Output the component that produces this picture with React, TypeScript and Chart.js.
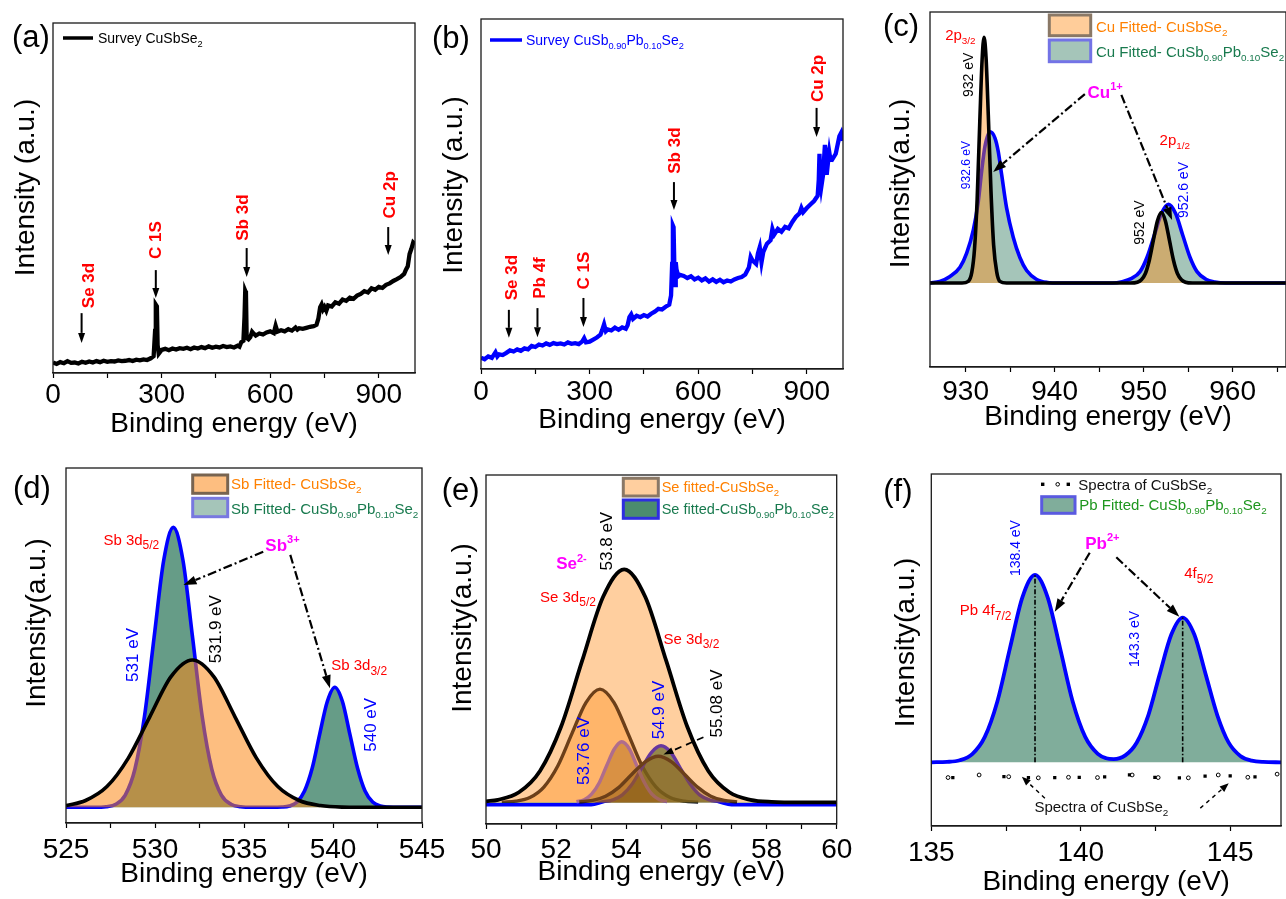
import React, { useEffect, useRef } from 'react';
import { Chart, registerables } from 'chart.js';

Chart.register(...registerables);

const FONT = "'Liberation Sans', Arial, Helvetica, sans-serif";
Chart.defaults.font.family = FONT;
Chart.defaults.color = '#000';

// ---------------- DATA ----------------
// (a) survey spectrum CuSbSe2  [binding energy eV, intensity a.u.]
const surveyA: number[][] = [[0,3.0],[10,2.6],[20,3.1],[30,2.8],[40,3.4],[50,2.9],[60,3.0],[70,2.7],[80,3.2],[90,2.9],[100,3.3],[110,3.0],[120,3.4],[130,3.1],[140,3.5],[150,3.2],[160,3.4],[170,3.3],[180,3.6],[190,3.4],[200,3.5],[210,3.7],[220,3.4],[230,3.8],[240,3.6],[250,3.9],[260,3.7],[270,4.2],[278,4.8],[282,12],[284,19.5],[287,19],[289,8],[292,5.5],[300,6.6],[310,6.9],[320,6.5],[330,7.0],[340,6.7],[350,7.1],[360,6.9],[370,7.2],[380,6.8],[390,7.3],[400,7.0],[410,7.4],[420,7.1],[430,7.6],[440,7.2],[450,7.5],[460,7.3],[470,7.7],[480,7.4],[490,7.6],[500,7.3],[510,7.8],[515,7.5],[520,8.8],[526,9.2],[529,16],[531,23.5],[533,23],[535,10],[540,9.6],[545,10.2],[550,11.8],[555,11.2],[560,10.7],[570,11.3],[580,11.0],[590,11.6],[600,11.9],[610,11.4],[615,13.5],[620,11.8],[630,12.2],[640,11.9],[650,12.5],[660,12.1],[670,13.0],[675,12.4],[680,12.8],[690,12.6],[700,12.9],[710,13.2],[720,13.4],[728,13.8],[733,15.5],[738,18.8],[742,19.6],[746,18.2],[750,18.9],[755,17.8],[760,19.3],[770,19.0],[780,20.2],[790,19.8],[800,21.0],[810,20.6],[820,21.5],[830,21.2],[840,22.1],[850,22.6],[860,23.4],[870,23.0],[880,24.2],[890,23.8],[900,24.6],[910,24.3],[920,25.2],[930,25.6],[940,26.3],[950,26.8],[960,27.4],[970,28.3],[975,29.5],[980,30.5],[985,34.0],[990,35.5],[995,37.3],[1000,36.8]];

// (b) survey spectrum CuSb0.90Pb0.10Se2
const surveyB: number[][] = [[0,3.2],[10,2.8],[20,3.6],[30,3.2],[40,4.8],[45,3.6],[50,4.2],[60,4.0],[70,4.6],[80,5.3],[90,5.0],[100,5.6],[110,5.2],[120,5.9],[130,5.6],[140,6.6],[150,6.3],[160,7.0],[170,6.7],[180,7.3],[190,6.9],[200,7.4],[210,7.1],[220,7.3],[230,7.0],[240,7.6],[250,7.2],[260,7.4],[270,7.1],[280,7.9],[285,8.8],[290,7.6],[300,7.8],[310,8.4],[320,9.0],[330,9.8],[335,11.2],[340,12.8],[345,10.8],[350,11.3],[360,11.0],[370,11.8],[380,11.2],[390,11.9],[400,11.5],[405,12.5],[410,14.8],[415,15.6],[420,14.3],[430,15.2],[440,14.8],[450,15.4],[460,15.0],[470,15.8],[480,16.4],[490,17.2],[500,17.0],[510,17.8],[520,18.4],[525,21.0],[528,30],[530,41.0],[532,40.5],[534,30],[536,24],[538,30.5],[540,28.5],[545,26.5],[550,26.9],[560,26.6],[570,26.0],[580,26.5],[590,25.6],[600,26.1],[610,25.3],[620,25.9],[630,25.0],[640,25.6],[650,24.9],[660,25.5],[670,24.8],[680,25.3],[690,25.0],[700,25.6],[710,26.0],[720,26.3],[730,27.0],[740,29.0],[745,32.0],[750,31.0],[760,30.0],[765,33.0],[770,34.8],[775,30.5],[780,33.5],[790,35.8],[800,36.8],[805,40.0],[810,38.4],[820,40.0],[830,39.2],[840,40.6],[850,40.2],[860,42.0],[870,43.5],[880,44.5],[885,46.0],[890,44.8],[900,46.0],[910,47.0],[920,48.0],[930,49.5],[933,54],[935,61.5],[937,55],[940,52],[945,55.5],[950,64.0],[952,62.5],[955,55.5],[958,58.5],[962,62.0],[965,60.0],[970,59.8],[980,61.5],[990,66.5],[995,67.5],[1000,65.2]];

// (c) Cu 2p fitted
const cuRef: number[][] = [[926,0],[929.6,0],[930.3,0.6],[930.7,4.0],[931.0,12.5],[931.3,31],[931.6,60],[931.85,82],[932.07,90.7],[932.3,83],[932.55,62],[932.85,34],[933.15,14],[933.5,4.0],[933.85,0.6],[934.6,0],[948.5,0],[949.3,0.3],[949.75,1.2],[950.2,3.5],[950.65,8.5],[951.1,15.8],[951.55,22.9],[952.0,26],[952.45,22.9],[952.9,15.8],[953.35,8.5],[953.8,3.5],[954.25,1.2],[954.7,0.3],[955.5,0],[966,0]];
const cuPb: number[][] = [[926,0],[927.1,0.6],[928.25,2.4],[929.37,5.8],[930.12,11.0],[930.87,19.6],[931.43,30.2],[931.81,41.5],[932.18,50.5],[932.74,55.8],[933.3,53.5],[933.67,48.5],[934.05,40.0],[934.6,27.8],[935.36,16.8],[936.1,9.4],[936.86,4.6],[937.99,1.3],[939.2,0.2],[940.5,0],[946.5,0],[947.6,0.5],[948.6,1.6],[949.6,4.2],[950.4,9.6],[951.2,17.6],[952.0,25.6],[952.8,29],[953.6,25.6],[954.4,17.6],[955.2,9.6],[956.0,4.2],[957.0,1.4],[958.0,0.4],[959.2,0],[966,0]];

// (d) Sb 3d fitted
const sbRef: number[][] = [[525,0.5],[526.1,2.0],[527.3,6.1],[528.5,14.5],[529.7,26.6],[530.9,38.5],[532.1,43.4],[533.3,38.5],[534.5,26.6],[535.7,14.5],[536.9,6.1],[538.1,2.0],[539.3,0.5],[540.5,0.05],[541.5,0],[545,0]];
const sbPb: number[][] = [[525,0],[526.6,0],[527.25,0.18],[527.8,0.9],[528.33,3.6],[528.87,11.2],[529.41,26.8],[529.95,50.1],[530.49,72.8],[531.03,82.5],[531.57,72.8],[532.11,50.1],[532.65,26.8],[533.19,11.2],[533.73,3.6],[534.27,0.9],[534.81,0.18],[535.5,0],[536.5,0],[537.13,0.08],[537.55,0.39],[537.98,1.55],[538.4,4.8],[538.83,11.5],[539.25,21.5],[539.68,31.2],[540.1,35.4],[540.53,31.2],[540.95,21.5],[541.38,11.5],[541.8,4.8],[542.23,1.55],[542.65,0.39],[543.08,0.08],[543.8,0],[545,0]];

// (e) Se 3d fitted
const seEnvelope: number[][] = [[50,0.3],[50.34,0.79],[50.94,3.1],[51.54,9.6],[52.14,23.1],[52.74,43.2],[53.34,62.8],[53.94,71.2],[54.54,62.8],[55.14,43.2],[55.74,23.1],[56.34,9.6],[56.94,3.1],[57.54,0.79],[58.14,0.16],[59,0],[60,0]];
const se53_2: number[][] = [[50.45,0.08],[50.85,0.39],[51.25,1.5],[51.65,4.7],[52.05,11.2],[52.45,21.0],[52.85,30.5],[53.25,34.6],[53.65,30.5],[54.05,21.0],[54.45,11.2],[54.85,4.7],[55.25,1.5],[55.65,0.39],[56.05,0.08]];
const se53_76: number[][] = [[52.58,0.2],[52.8,0.81],[53.01,2.5],[53.23,6.0],[53.44,11.2],[53.66,16.3],[53.87,18.5],[54.09,16.3],[54.3,11.2],[54.52,6.0],[54.73,2.5],[54.95,0.81],[55.16,0.2]];
const se54_9: number[][] = [[50,-0.7],[53.0,-0.7],[53.34,0.19],[53.62,0.76],[53.89,2.3],[54.17,5.6],[54.44,10.5],[54.72,15.3],[54.99,17.3],[55.27,15.3],[55.54,10.5],[55.82,5.6],[56.09,2.3],[56.37,0.76],[56.64,0.19],[57.0,-0.7],[60,-0.7]];
const se55_08: number[][] = [[52.66,0.16],[53.04,0.62],[53.41,1.9],[53.79,4.6],[54.16,8.6],[54.54,12.4],[54.91,14.1],[55.29,12.4],[55.66,8.6],[56.04,4.6],[56.41,1.9],[56.79,0.62],[57.16,0.16]];

// (f) Pb 4f fitted + CuSbSe2 spectrum points
const pbFit: number[][] = [[135,0],[135.53,0.14],[135.95,0.72],[136.37,2.85],[136.79,8.8],[137.21,21.1],[137.63,39.5],[138.05,57.3],[138.47,65],[138.89,57.3],[139.31,39.5],[139.73,21.1],[140.15,8.8],[140.57,2.9],[140.85,1.4],[141.1,1.1],[141.49,2.4],[141.87,6.8],[142.26,16.3],[142.64,30.5],[143.03,44.3],[143.41,50.2],[143.8,44.3],[144.18,30.5],[144.57,16.3],[144.95,6.8],[145.34,2.2],[145.72,0.56],[146.1,0.11],[146.7,0]];
const pbPeaks: number[][] = [[138.47,65],[143.41,50.2]];
const refSquares: number[][] = [[135.72,-5.3],[137.43,-5.0],[138.25,-5.3],[139.13,-5.3],[139.95,-5.2],[140.8,-5.1],[141.63,-4.4],[142.48,-5.2],[143.3,-5.4],[144.16,-4.8],[145.0,-4.7],[145.83,-5.1]];
const refCircles: number[][] = [[135.56,-5.3],[136.6,-4.4],[137.59,-5.0],[138.58,-5.4],[139.59,-5.2],[140.56,-5.3],[141.72,-4.4],[142.59,-5.3],[143.6,-5.4],[144.6,-4.4],[145.59,-5.2],[146.57,-4.1]];

// tick labels
const ticksSurvey = [0, 300, 600, 900];
const ticksCu = [930, 940, 950, 960];
const ticksSb = [525, 530, 535, 540, 545];
const ticksSe = [50, 52, 54, 56, 58, 60];
const ticksPb = [135, 140, 145];

// ---------------- helpers ----------------
const RED = '#FF0000', BLUE = '#0000FF', MAG = '#FF00FF', ORANGE_T = '#FF8000', GREEN_T = '#187A4E';

type Seg = { t: string; m: number; w?: number };
function parseRich(s: string): Seg[] {
  const segs: Seg[] = [];
  let buf = '';
  let i = 0;
  while (i < s.length) {
    const c = s[i];
    if ((c === '_' || c === '^') && s[i + 1] === '{') {
      if (buf) { segs.push({ t: buf, m: 0 }); buf = ''; }
      const end = s.indexOf('}', i);
      segs.push({ t: s.slice(i + 2, end), m: c === '_' ? 1 : 2 });
      i = end + 1;
    } else { buf += c; i++; }
  }
  if (buf) segs.push({ t: buf, m: 0 });
  return segs;
}

type RichOpt = { size: number; color: string; bold?: boolean; rot?: boolean; align?: 'left' | 'center'; sub?: number };
function drawRich(ctx: CanvasRenderingContext2D, s: string, x: number, y: number, o: RichOpt) {
  const segs = parseRich(s);
  const wt = o.bold ? 'bold ' : '';
  const ss = o.size * (o.sub ?? 0.66);
  const fontFor = (m: number) => `${wt}${m === 0 ? o.size : ss}px ${FONT}`;
  ctx.save();
  let total = 0;
  for (const g of segs) { ctx.font = fontFor(g.m); g.w = ctx.measureText(g.t).width; total += g.w; }
  ctx.translate(x, y);
  if (o.rot) ctx.rotate(-Math.PI / 2);
  let cx = (o.align ?? 'left') === 'center' ? -total / 2 : 0;
  const y0 = 0.35 * o.size;
  ctx.fillStyle = o.color;
  ctx.textBaseline = 'alphabetic';
  ctx.textAlign = 'left';
  for (const g of segs) {
    ctx.font = fontFor(g.m);
    const dy = g.m === 1 ? 0.28 * o.size : g.m === 2 ? -0.45 * o.size : 0;
    ctx.fillText(g.t, cx, y0 + dy);
    cx += g.w || 0;
  }
  ctx.restore();
}

type Arr = { x1: number; y1: number; x2: number; y2: number; dash?: number[]; w?: number; hl?: number; hw?: number };
function drawArrow(ctx: CanvasRenderingContext2D, x1: number, y1: number, x2: number, y2: number, o: Arr) {
  const ang = Math.atan2(y2 - y1, x2 - x1);
  const hl = o.hl ?? 12, hw = o.hw ?? 8;
  const bx = x2 - hl * Math.cos(ang), by = y2 - hl * Math.sin(ang);
  ctx.save();
  ctx.strokeStyle = '#000'; ctx.fillStyle = '#000';
  ctx.lineWidth = o.w ?? 2;
  ctx.setLineDash(o.dash ?? []);
  ctx.beginPath(); ctx.moveTo(x1, y1); ctx.lineTo(bx, by); ctx.stroke();
  ctx.setLineDash([]);
  ctx.beginPath();
  ctx.moveTo(x2, y2);
  ctx.lineTo(bx + (hw / 2) * Math.sin(ang), by - (hw / 2) * Math.cos(ang));
  ctx.lineTo(bx - (hw / 2) * Math.sin(ang), by + (hw / 2) * Math.cos(ang));
  ctx.closePath(); ctx.fill();
  ctx.restore();
}

type Txt = { x: number; y: number; s: string; size: number; color: string; bold?: boolean; rot?: boolean; sub?: number };
type Leg = { kind: 'box' | 'line' | 'dots'; dx: number; dy: number; w: number; h: number; fill?: string; stroke?: string; lw?: number; text: string; tdx: number; tdy: number; color: string; size: number };

type PanelCfg = {
  key: string;
  rect: { x: number; y: number; w: number; h: number };
  area: { l: number; r: number; t: number; b: number };
  xMin: number; xMax: number; yMin: number; yMax: number;
  step: number; labels: number[]; tickPad: number; xTitleY: number;
  datasets: any[];
  texts: Txt[]; arrows: Arr[]; legend: Leg[];
  letterAt: [number, number]; yTitle: string; yTitleAt: [number, number];
};

const xy = (a: number[][]) => a.map(([x, y]) => ({ x, y }));
const curve = (data: number[][], border: string, fill: string | null, width = 3.5, extra: any = {}) => ({
  data: xy(data), borderColor: border, backgroundColor: fill || 'transparent', borderWidth: width,
  fill: fill ? 'origin' : false, pointRadius: 0, cubicInterpolationMode: 'monotone', ...extra,
});

const DASHDOT = [9, 3, 2, 3];

// ---------------- PANELS ----------------
const panels: PanelCfg[] = [
  {
    key: 'a', rect: { x: 0, y: 0, w: 440, h: 446 }, area: { l: 53, r: 415, t: 23, b: 373 },
    xMin: 0, xMax: 1000, yMin: 0, yMax: 100, step: 150, labels: ticksSurvey, tickPad: 0, xTitleY: 424.3,
    datasets: [curve(surveyA, '#000', null, 4.3, { cubicInterpolationMode: 'default', tension: 0 })],
    texts: [
      { x: 96, y: 25, s: 'Se 3d', size: 17, color: RED, bold: true, rot: true },
      { x: 282, y: 38, s: 'C 1S', size: 17, color: RED, bold: true, rot: true },
      { x: 521, y: 44.4, s: 'Sb 3d', size: 17, color: RED, bold: true, rot: true },
      { x: 928, y: 50.9, s: 'Cu 2p', size: 17, color: RED, bold: true, rot: true },
    ],
    arrows: [
      { x1: 79, y1: 17.1, x2: 79, y2: 8.6, hl: 10, hw: 7 },
      { x1: 284, y1: 29.4, x2: 284, y2: 21.4, hl: 10, hw: 7 },
      { x1: 535, y1: 35.7, x2: 535, y2: 27.4, hl: 10, hw: 7 },
      { x1: 926, y1: 41.7, x2: 926, y2: 33.7, hl: 10, hw: 7 },
    ],
    legend: [{ kind: 'line', dx: 10, dy: 15, w: 30, h: 3.5, stroke: '#000', text: 'Survey CuSbSe_{2}', tdx: 45, tdy: 15, color: '#000', size: 14 }],
    letterAt: [-41, 13], yTitle: 'Intensity (a.u.)', yTitleAt: [-28.5, 164.5],
  },
  {
    key: 'b', rect: { x: 430, y: 0, w: 440, h: 442 }, area: { l: 481, r: 843, t: 19, b: 369 },
    xMin: 0, xMax: 1000, yMin: 0, yMax: 100, step: 150, labels: ticksSurvey, tickPad: 1, xTitleY: 420.3,
    datasets: [curve(surveyB, BLUE, null, 4.3, { cubicInterpolationMode: 'default', tension: 0 })],
    texts: [
      { x: 83, y: 26.1, s: 'Se 3d', size: 17, color: RED, bold: true, rot: true },
      { x: 160, y: 26, s: 'Pb 4f', size: 17, color: RED, bold: true, rot: true },
      { x: 283, y: 28.1, s: 'C 1S', size: 17, color: RED, bold: true, rot: true },
      { x: 533, y: 62.4, s: 'Sb 3d', size: 17, color: RED, bold: true, rot: true },
      { x: 927, y: 83, s: 'Cu 2p', size: 17, color: RED, bold: true, rot: true },
    ],
    arrows: [
      { x1: 77, y1: 16.9, x2: 77, y2: 8.9, hl: 10, hw: 7 },
      { x1: 156, y1: 17.4, x2: 156, y2: 9.1, hl: 10, hw: 7 },
      { x1: 283, y1: 20.3, x2: 283, y2: 12.0, hl: 10, hw: 7 },
      { x1: 533, y1: 53.4, x2: 533, y2: 45.4, hl: 10, hw: 7 },
      { x1: 927, y1: 74.6, x2: 927, y2: 66.3, hl: 10, hw: 7 },
    ],
    legend: [{ kind: 'line', dx: 9, dy: 21, w: 32, h: 3.5, stroke: BLUE, text: 'Survey CuSb_{0.90}Pb_{0.10}Se_{2}', tdx: 45, tdy: 21, color: BLUE, size: 14 }],
    letterAt: [-49, 18], yTitle: 'Intensity (a.u.)', yTitleAt: [-29, 166],
  },
  {
    key: 'c', rect: { x: 870, y: 0, w: 416, h: 440 }, area: { l: 930, r: 1286, t: 12, b: 367 },
    xMin: 926, xMax: 966, yMin: -31, yMax: 100, step: 5, labels: ticksCu, tickPad: 3, xTitleY: 417.3,
    datasets: [
      curve(cuRef, '#000', 'rgba(255,135,15,0.42)', 3.6),
      curve(cuPb, BLUE, 'rgba(56,126,99,0.45)', 3.6),
    ],
    texts: [
      { x: 927.7, y: 91.5, s: '2p_{3/2}', size: 15, color: RED },
      { x: 930.3, y: 76.8, s: '932 eV', size: 14, color: '#000', rot: true },
      { x: 930.0, y: 43.5, s: '932.6 eV', size: 12, color: BLUE, rot: true },
      { x: 943.7, y: 70.5, s: 'Cu^{1+}', size: 17, color: MAG, bold: true, sub: 0.65 },
      { x: 951.8, y: 52.8, s: '2p_{1/2}', size: 15, color: RED },
      { x: 949.5, y: 22.3, s: '952 eV', size: 14, color: '#000', rot: true },
      { x: 954.4, y: 34.3, s: '952.6 eV', size: 14, color: BLUE, rot: true },
    ],
    arrows: [
      { x1: 943.4, y1: 69.7, x2: 933.1, y2: 41, dash: DASHDOT, w: 2.2, hl: 13, hw: 9 },
      { x1: 947.5, y1: 69.4, x2: 953.2, y2: 23.2, dash: DASHDOT, w: 2.2, hl: 13, hw: 9 },
    ],
    legend: [
      { kind: 'box', dx: 119.3, dy: 3, w: 41.4, h: 20.7, fill: 'rgba(255,135,15,0.42)', stroke: '#8A7866', lw: 3, text: 'Cu Fitted- CuSbSe_{2}', tdx: 166, tdy: 14.7, color: ORANGE_T, size: 15 },
      { kind: 'box', dx: 119.3, dy: 28, w: 41.4, h: 21.7, fill: 'rgba(56,126,99,0.45)', stroke: '#7373E6', lw: 3, text: 'Cu Fitted- CuSb_{0.90}Pb_{0.10}Se_{2}', tdx: 166, tdy: 39.7, color: GREEN_T, size: 15 },
    ],
    letterAt: [-47, 13], yTitle: 'Intensity(a.u.)', yTitleAt: [-30.5, 171.5],
  },
  {
    key: 'd', rect: { x: 0, y: 445, w: 455, h: 451 }, area: { l: 66, r: 422, t: 468, b: 823 },
    xMin: 525, xMax: 545, yMin: -4.63, yMax: 100, step: 2.5, labels: ticksSb, tickPad: 5, xTitleY: 874.3,
    datasets: [
      curve(sbRef, '#000', 'rgba(251,135,20,0.54)', 3.6),
      curve(sbPb, BLUE, 'rgba(56,126,99,0.77)', 3.6),
    ],
    texts: [
      { x: 527.1, y: 78.8, s: 'Sb 3d_{5/2}', size: 15, color: RED, sub: 0.8 },
      { x: 536.2, y: 77.3, s: 'Sb^{3+}', size: 17, color: MAG, bold: true, sub: 0.65 },
      { x: 533.37, y: 52.5, s: '531.9 eV', size: 17, color: '#000', rot: true },
      { x: 528.7, y: 44.9, s: '531 eV', size: 17, color: BLUE, rot: true },
      { x: 539.9, y: 41.9, s: 'Sb 3d_{3/2}', size: 15, color: RED, sub: 0.8 },
      { x: 542.1, y: 24.3, s: '540 eV', size: 17, color: BLUE, rot: true },
    ],
    arrows: [
      { x1: 536.08, y1: 75.3, x2: 531.6, y2: 65.5, dash: DASHDOT, w: 2.2, hl: 13, hw: 9 },
      { x1: 537.6, y1: 74.4, x2: 539.83, y2: 35.1, dash: DASHDOT, w: 2.2, hl: 13, hw: 9 },
    ],
    legend: [
      { kind: 'box', dx: 126.7, dy: 7, w: 35, h: 18.3, fill: 'rgba(251,135,20,0.54)', stroke: '#786450', lw: 3, text: 'Sb Fitted- CuSbSe_{2}', tdx: 165, tdy: 16, color: ORANGE_T, size: 15 },
      { kind: 'box', dx: 126.7, dy: 30.3, w: 35, h: 18.4, fill: 'rgba(56,126,99,0.45)', stroke: '#7878E0', lw: 3, text: 'Sb Fitted- CuSb_{0.90}Pb_{0.10}Se_{2}', tdx: 165, tdy: 40.3, color: GREEN_T, size: 15 },
    ],
    letterAt: [-53, 19], yTitle: 'Intensity(a.u.)', yTitleAt: [-30.5, 155],
  },
  {
    key: 'e', rect: { x: 440, y: 445, w: 420, h: 449 }, area: { l: 486, r: 836.7, t: 475, b: 824 },
    xMin: 50, xMax: 60, yMin: -6.6, yMax: 100, step: 1, labels: ticksSe, tickPad: 4, xTitleY: 872.3,
    datasets: [
      curve(seEnvelope, '#000', 'rgba(255,135,15,0.4)', 3.8),
      curve(se55_08, '#0A1020', 'rgba(70,55,10,0.35)', 3.4),
      curve(se53_76, '#7A5CE0', 'rgba(115,80,25,0.45)', 3.4),
      curve(se54_9, BLUE, 'rgba(0,84,58,0.7)', 3.4),
      curve(se53_2, '#0A1020', 'rgba(255,135,15,0.37)', 3.4),
    ],
    texts: [
      { x: 53.42, y: 79.8, s: '53.8 eV', size: 17, color: '#000', rot: true },
      { x: 52.0, y: 73.0, s: 'Se^{2-}', size: 17, color: MAG, bold: true, sub: 0.65 },
      { x: 51.54, y: 62.8, s: 'Se 3d_{5/2}', size: 15, color: RED, sub: 0.8 },
      { x: 55.06, y: 50.1, s: 'Se 3d_{3/2}', size: 15, color: RED, sub: 0.8 },
      { x: 56.56, y: 30.2, s: '55.08 eV', size: 17, color: '#000', rot: true },
      { x: 54.9, y: 28.2, s: '54.9 eV', size: 17, color: BLUE, rot: true },
      { x: 52.76, y: 15.7, s: '53.76 eV', size: 17, color: BLUE, rot: true },
    ],
    arrows: [{ x1: 56.2, y1: 19.9, x2: 55.06, y2: 14.6, dash: [7, 5], w: 1.8, hl: 10, hw: 7 }],
    legend: [
      { kind: 'box', dx: 137.3, dy: 3.3, w: 35, h: 17.7, fill: 'rgba(255,135,15,0.4)', stroke: '#8A7866', lw: 3, text: 'Se fitted-CuSbSe_{2}', tdx: 175.7, tdy: 12.3, color: ORANGE_T, size: 14.5 },
      { kind: 'box', dx: 137.3, dy: 25, w: 35, h: 18.3, fill: '#4B8C6E', stroke: '#2E2EE0', lw: 3, text: 'Se fitted-CuSb_{0.90}Pb_{0.10}Se_{2}', tdx: 175.7, tdy: 34.3, color: GREEN_T, size: 14.5 },
    ],
    letterAt: [-44.3, 14], yTitle: 'Intensity(a.u.)', yTitleAt: [-25, 153],
  },
  {
    key: 'f', rect: { x: 870, y: 445, w: 416, h: 457 }, area: { l: 931.3, r: 1286, t: 474, b: 826 },
    xMin: 135, xMax: 146.7, yMin: -22.1, yMax: 100, step: 2.5, labels: ticksPb, tickPad: 5, xTitleY: 882.3,
    datasets: [
      ...pbPeaks.map(([x, y]) => ({ data: [{ x, y: 0 }, { x, y }], borderColor: '#000', borderWidth: 1.6, borderDash: [5, 2, 1.5, 2], pointRadius: 0, fill: false })),
      { data: xy(refSquares), showLine: false, pointStyle: 'rect', pointRadius: 2.3, pointBackgroundColor: '#000', pointBorderColor: '#000', pointBorderWidth: 0 },
      { data: xy(refCircles), showLine: false, pointStyle: 'circle', pointRadius: 1.9, pointBackgroundColor: '#fff', pointBorderColor: '#000', pointBorderWidth: 1 },
      curve(pbFit, BLUE, 'rgba(56,126,99,0.64)', 3.8),
    ],
    texts: [
      { x: 137.79, y: 74.3, s: '138.4 eV', size: 14, color: BLUE, rot: true },
      { x: 140.15, y: 76.0, s: 'Pb^{2+}', size: 17, color: MAG, bold: true, sub: 0.65 },
      { x: 143.46, y: 65.6, s: '4f_{5/2}', size: 15, color: RED, sub: 0.8 },
      { x: 135.95, y: 52.8, s: 'Pb 4f_{7/2}', size: 15, color: RED, sub: 0.8 },
      { x: 141.8, y: 42.8, s: '143.3 eV', size: 14, color: BLUE, rot: true },
      { x: 138.45, y: -15.4, s: 'Spectra of CuSbSe_{2}', size: 15, color: '#111' },
    ],
    arrows: [
      { x1: 140.3, y1: 72.7, x2: 139.13, y2: 52.2, dash: DASHDOT, w: 2.2, hl: 13, hw: 9 },
      { x1: 141.19, y1: 71.1, x2: 143.3, y2: 50.5, dash: DASHDOT, w: 2.2, hl: 13, hw: 9 },
      { x1: 138.8, y1: -12.5, x2: 138.03, y2: -5.0, dash: [4, 4], w: 1.4, hl: 9, hw: 7 },
      { x1: 144.0, y1: -15.9, x2: 144.95, y2: -7.3, dash: [4, 4], w: 1.4, hl: 9, hw: 7 },
    ],
    legend: [
      { kind: 'dots', dx: 111.4, dy: 10.3, w: 25.6, h: 0, text: 'Spectra of CuSbSe_{2}', tdx: 147, tdy: 10.3, color: '#111', size: 15 },
      { kind: 'box', dx: 110.4, dy: 22.7, w: 33.3, h: 16.6, fill: 'rgba(56,126,99,0.64)', stroke: '#5A5AE0', lw: 3, text: 'Pb Fitted- CuSb_{0.90}Pb_{0.10}Se_{2}', tdx: 148, tdy: 31, color: '#1E961E', size: 15 },
    ],
    letterAt: [-48, 16], yTitle: 'Intensity(a.u.)', yTitleAt: [-26.8, 168.5],
  },
];

function makeDeco(p: PanelCfg) {
  return {
    id: 'deco_' + p.key,
    afterDatasetsDraw(chart: any) {
      const { ctx, chartArea: a, scales } = chart;
      const X = (v: number) => scales.x.getPixelForValue(v);
      const Y = (v: number) => scales.y.getPixelForValue(v);
      ctx.save();
      ctx.strokeStyle = '#1a1a1a'; ctx.lineWidth = 1.3; ctx.setLineDash([]);
      ctx.strokeRect(a.left, a.top, a.right - a.left, a.bottom - a.top);
      for (const ar of p.arrows) drawArrow(ctx, X(ar.x1), Y(ar.y1), X(ar.x2), Y(ar.y2), ar);
      for (const t of p.texts) drawRich(ctx, t.s, X(t.x), Y(t.y), { size: t.size, color: t.color, bold: t.bold, rot: t.rot, align: t.rot ? 'center' : 'left', sub: t.sub });
      for (const l of p.legend) {
        const lx = a.left + l.dx, ly = a.top + l.dy;
        if (l.kind === 'box') {
          ctx.fillStyle = '#fff'; ctx.fillRect(lx, ly, l.w, l.h);
          ctx.fillStyle = l.fill!; ctx.fillRect(lx, ly, l.w, l.h);
          ctx.strokeStyle = l.stroke!; ctx.lineWidth = l.lw || 2; ctx.strokeRect(lx, ly, l.w, l.h);
        } else if (l.kind === 'line') {
          ctx.strokeStyle = l.stroke!; ctx.lineWidth = l.h;
          ctx.beginPath(); ctx.moveTo(lx, ly); ctx.lineTo(lx + l.w, ly); ctx.stroke();
        } else {
          ctx.fillStyle = '#000';
          ctx.fillRect(lx - 1.7, ly - 1.7, 3.4, 3.4);
          ctx.fillRect(lx + l.w - 1.7, ly - 1.7, 3.4, 3.4);
          ctx.beginPath(); ctx.arc(lx + 15, ly, 1.8, 0, Math.PI * 2);
          ctx.fillStyle = '#fff'; ctx.fill(); ctx.strokeStyle = '#000'; ctx.lineWidth = 1; ctx.stroke();
        }
        drawRich(ctx, l.text, a.left + l.tdx, a.top + l.tdy, { size: l.size, color: l.color, sub: 0.66 });
      }
      drawRich(ctx, `(${p.key})`, a.left + p.letterAt[0], a.top + p.letterAt[1], { size: 31, color: '#000' });
      drawRich(ctx, p.yTitle, a.left + p.yTitleAt[0], a.top + p.yTitleAt[1], { size: 28, color: '#000', rot: true, align: 'center' });
      ctx.restore();
    },
  };
}

function tickValues(min: number, max: number, step: number) {
  const out: number[] = [];
  const start = Math.ceil(min / step - 1e-9) * step;
  for (let v = start; v <= max + 1e-9; v += step) out.push(Math.round(v * 1000) / 1000);
  return out;
}

function Panel({ p }: { p: PanelCfg }) {
  const ref = useRef<HTMLCanvasElement>(null);
  useEffect(() => {
    const c = ref.current;
    if (!c) return;
    const { rect, area } = p;
    const xH = p.xTitleY - area.b + 16.8;
    const padding = {
      left: area.l - rect.x,
      top: area.t - rect.y,
      right: rect.x + rect.w - area.r,
      bottom: Math.max(0, rect.y + rect.h - area.b - xH),
    };
    const tv = tickValues(p.xMin, p.xMax, p.step);
    const chart = new Chart(c, {
      type: 'line',
      data: { datasets: p.datasets },
      options: {
        animation: false,
        responsive: false,
        events: [],
        layout: { padding },
        plugins: { legend: { display: false }, tooltip: { enabled: false } },
        scales: {
          x: {
            type: 'linear', min: p.xMin, max: p.xMax,
            afterBuildTicks: (s: any) => { s.ticks = tv.map((value) => ({ value })); },
            afterFit: (s: any) => { s.height = xH; },
            ticks: {
              autoSkip: false, maxRotation: 0, minRotation: 0, padding: p.tickPad,
              font: { size: 28 }, color: '#000',
              callback: (v: any) => {
                const hit = p.labels.find((l) => Math.abs(l - Number(v)) < 1e-6);
                return hit === undefined ? '' : String(hit);
              },
            },
            grid: { display: true, drawOnChartArea: false, drawTicks: true, tickLength: 5, tickWidth: 1.2, tickColor: '#000' },
            border: { display: true, color: '#1a1a1a', width: 1.3 },
            title: { display: true, text: 'Binding energy (eV)', font: { size: 28 }, color: '#000', padding: 0 },
          },
          y: { type: 'linear', display: false, min: p.yMin, max: p.yMax },
        },
      } as any,
      plugins: [makeDeco(p)],
    });
    return () => chart.destroy();
  }, [p]);
  return (
    <canvas
      ref={ref}
      width={p.rect.w}
      height={p.rect.h}
      style={{ position: 'absolute', left: p.rect.x, top: p.rect.y, width: p.rect.w, height: p.rect.h }}
    />
  );
}

export default function App() {
  useEffect(() => {
    document.body.style.margin = '0';
    document.body.style.overflow = 'hidden';
  }, []);
  return (
    <div style={{ position: 'fixed', left: 0, top: 0, width: 1286, height: 899, overflow: 'hidden', background: '#fff' }}>
      {panels.map((p) => <Panel key={p.key} p={p} />)}
    </div>
  );
}
